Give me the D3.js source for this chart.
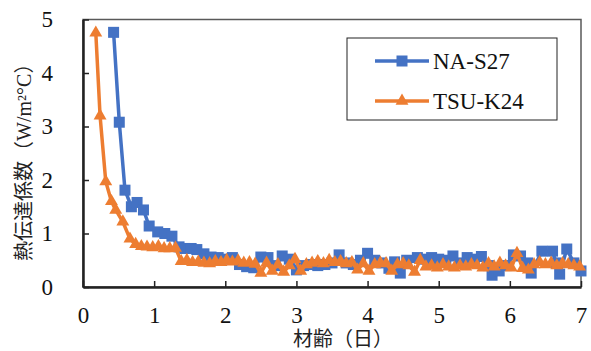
<!DOCTYPE html>
<html>
<head>
<meta charset="utf-8">
<script src="https://cdn.jsdelivr.net/npm/d3@7"></script>
<style>
  body { margin: 0; background: #fff; }
  svg text { font-family: "Liberation Serif", serif; }
  svg text.jp { font-family: "Liberation Serif", "Noto Sans CJK JP", serif; }
</style>
</head>
<body>
<div id="chart"></div>
<script>
// 材齢 (days) and 熱伝達係数 (W/m2°C)
var naAge = [0.43,0.51,0.59,0.68,0.76,0.85,0.93,1.05,1.15,1.25,1.35,1.43,1.52,1.6,1.7,1.8,1.9,2.0,2.1,2.2,2.3,2.4,2.5,2.6,2.7,2.8,2.9,3.0,3.1,3.2,3.3,3.4,3.5,3.6,3.7,3.8,3.9,4.0,4.1,4.2,4.3,4.38,4.46,4.55,4.7,4.8,4.9,5.0,5.1,5.2,5.3,5.4,5.5,5.6,5.7,5.75,5.85,5.95,6.05,6.15,6.25,6.3,6.45,6.6,6.65,6.7,6.8,6.9,7.0];
var naVal = [4.76,3.08,1.81,1.5,1.58,1.44,1.14,1.03,1.0,0.95,0.75,0.72,0.72,0.7,0.62,0.56,0.55,0.52,0.55,0.42,0.38,0.36,0.56,0.55,0.4,0.58,0.52,0.32,0.4,0.42,0.4,0.42,0.45,0.6,0.45,0.42,0.5,0.63,0.5,0.45,0.35,0.47,0.26,0.5,0.55,0.52,0.55,0.52,0.5,0.58,0.45,0.55,0.52,0.57,0.4,0.22,0.3,0.4,0.6,0.58,0.45,0.26,0.67,0.67,0.45,0.24,0.71,0.45,0.3];

var tsuAge = [0.18,0.24,0.32,0.40,0.46,0.56,0.66,0.74,0.82,0.9,0.98,1.06,1.14,1.22,1.3,1.38,1.46,1.54,1.62,1.7,1.78,1.86,1.94,2.02,2.1,2.18,2.26,2.34,2.42,2.5,2.58,2.66,2.74,2.82,2.9,2.98,3.06,3.14,3.22,3.3,3.38,3.46,3.54,3.62,3.7,3.78,3.86,3.94,4.02,4.1,4.18,4.26,4.34,4.42,4.5,4.58,4.66,4.74,4.82,4.9,4.98,5.06,5.14,5.22,5.3,5.38,5.46,5.54,5.62,5.7,5.78,5.86,5.94,6.02,6.1,6.18,6.26,6.34,6.42,6.5,6.58,6.66,6.74,6.82,6.9,6.98];
var tsuVal = [4.75,3.2,1.97,1.6,1.44,1.22,0.9,0.8,0.76,0.75,0.74,0.76,0.72,0.72,0.73,0.48,0.5,0.46,0.47,0.45,0.44,0.48,0.46,0.5,0.47,0.49,0.45,0.46,0.43,0.26,0.45,0.3,0.42,0.28,0.4,0.52,0.3,0.42,0.45,0.48,0.44,0.5,0.46,0.48,0.44,0.46,0.32,0.44,0.3,0.42,0.45,0.44,0.3,0.42,0.44,0.4,0.28,0.5,0.38,0.4,0.36,0.42,0.38,0.36,0.4,0.38,0.42,0.4,0.36,0.44,0.38,0.45,0.4,0.36,0.63,0.35,0.32,0.42,0.46,0.42,0.45,0.4,0.44,0.42,0.4,0.38];

var xTicks = [0,1,2,3,4,5,6,7];
var yTicks = [0,1,2,3,4,5];
var seriesNames = ['NA-S27','TSU-K24'];
var xTitle = '材齢（日）';
var yTitle = '熱伝達係数（W/m²°C）';

var W = 591, H = 351;
var margin = {top: 19.5, right: 10, bottom: 64, left: 83};
var width = W - margin.left - margin.right,
    height = H - margin.top - margin.bottom;

var blue = '#4472C4', orange = '#ED7D31';

var svg = d3.select('#chart').append('svg')
    .attr('width', W)
    .attr('height', H);
var g = svg.append('g')
    .attr('transform', `translate(${margin.left}, ${margin.top})`);

var x = d3.scaleLinear().domain([0,7]).range([0,width]);
var y = d3.scaleLinear().domain([0,5]).range([height,0]);

// plot border
g.append('rect')
    .attr('width', width).attr('height', height)
    .attr('fill','none').attr('stroke','#595959').attr('stroke-width',1.5);

var xAxis = g.append('g')
    .attr('transform', `translate(0,${height})`)
    .call(d3.axisBottom(x).tickValues(xTicks).tickFormat(d3.format('d'))
        .tickSizeInner(-6).tickSizeOuter(0).tickPadding(20));
var yAxis = g.append('g')
    .call(d3.axisLeft(y).tickValues(yTicks).tickFormat(d3.format('d'))
        .tickSizeInner(-6).tickSizeOuter(0).tickPadding(30));

[xAxis, yAxis].forEach(function(a) {
    a.attr('font-family', null).attr('font-size', 23);
    a.select('.domain').attr('stroke','#222').attr('stroke-width',2.5);
    a.selectAll('.tick line').attr('stroke','#222').attr('stroke-width',1.5);
    a.selectAll('.tick text').attr('fill','#111');
});

var line = d3.line()
    .x(d => x(d[0]))
    .y(d => y(d[1]));

var naData = naAge.map((a,i) => [a, naVal[i]]);
var tsuData = tsuAge.map((a,i) => [a, tsuVal[i]]);

var tri = d3.symbol().type(d3.symbolTriangle).size(72);

function drawSeries(data, color, marker) {
    g.append('path')
        .attr('d', line(data))
        .attr('fill','none')
        .attr('stroke', color)
        .attr('stroke-width', 3.5)
        .attr('stroke-linejoin','round');
    var pts = g.append('g');
    if (marker === 'square') {
        pts.selectAll('rect').data(data).join('rect')
            .attr('x', d => x(d[0]) - 5.5)
            .attr('y', d => y(d[1]) - 5.5)
            .attr('width', 11).attr('height', 11)
            .attr('fill', color);
    } else {
        pts.selectAll('path').data(data).join('path')
            .attr('d', tri)
            .attr('transform', d => `translate(${x(d[0])},${y(d[1])})`)
            .attr('fill', color);
    }
}

drawSeries(naData, blue, 'square');
drawSeries(tsuData, orange, 'triangle');

// legend
var lg = svg.append('g').attr('transform','translate(347,38)');
lg.append('rect')
    .attr('width', 210).attr('height', 82)
    .attr('fill','#fff').attr('stroke','#222').attr('stroke-width',1);
var items = [
    {name: seriesNames[0], color: blue, marker: 'square'},
    {name: seriesNames[1], color: orange, marker: 'triangle'}
];
items.forEach(function(it, i) {
    var yy = 23 + i*40;
    lg.append('line')
        .attr('x1', 28).attr('x2', 82).attr('y1', yy).attr('y2', yy)
        .attr('stroke', it.color).attr('stroke-width', 3.5);
    if (it.marker === 'square') {
        lg.append('rect').attr('x', 49.5).attr('y', yy-5.5).attr('width',11).attr('height',11).attr('fill', it.color);
    } else {
        lg.append('path').attr('d', tri).attr('transform', `translate(55,${yy})`).attr('fill', it.color);
    }
    lg.append('text')
        .attr('x', 86).attr('y', yy + 8)
        .attr('font-size', 23)
        .attr('fill','#111')
        .text(it.name);
});

// axis titles
svg.append('text')
    .attr('class','jp')
    .attr('x', 343)
    .attr('y', 346)
    .attr('text-anchor','middle')
    .attr('font-size', 20)
    .attr('fill','#222')
    .text(xTitle);

svg.append('text')
    .attr('class','jp')
    .attr('transform', `translate(31, ${margin.top + height/2 + 4}) rotate(-90)`)
    .attr('text-anchor','middle')
    .attr('font-size', 20)
    .attr('fill','#222')
    .text(yTitle);
</script>
</body>
</html>
